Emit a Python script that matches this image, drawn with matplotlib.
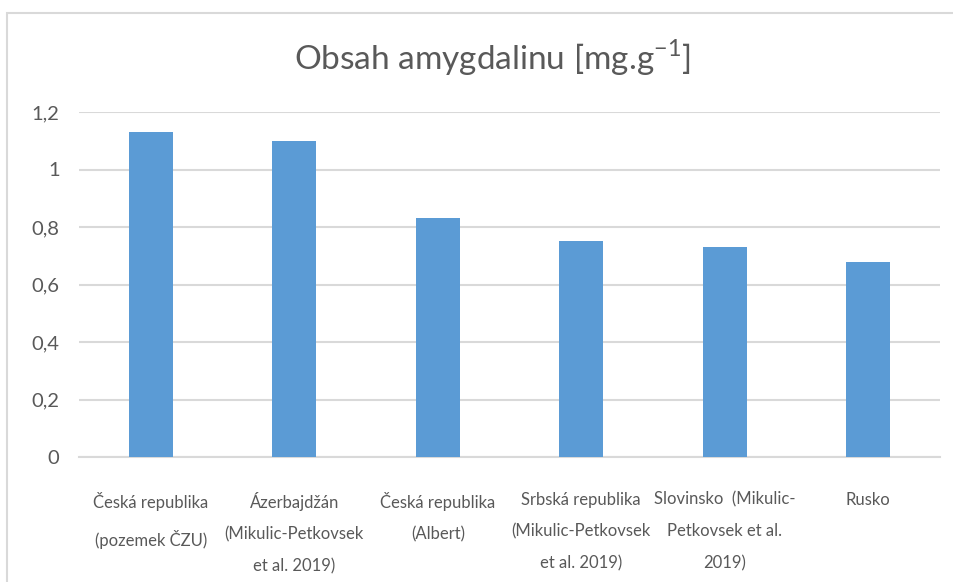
import matplotlib.pyplot as plt
import numpy as np
from matplotlib.patches import Rectangle

categories = [
    "Česká republika\n(pozemek ČZU)",
    "Ázerbajdžán\n(Mikulic-Petkovsek\net al. 2019)",
    "Česká republika\n(Albert)",
    "Srbská republika\n(Mikulic-Petkovsek\net al. 2019)",
    "Slovinsko  (Mikulic-\nPetkovsek et al.\n2019)",
    "Rusko",
]
values = [1.13, 1.10, 0.83, 0.75, 0.73, 0.68]
yticks = [0, 0.2, 0.4, 0.6, 0.8, 1.0, 1.2]
ytick_labels = ["0", "0,2", "0,4", "0,6", "0,8", "1", "1,2"]

plt.rcParams['font.family'] = ['Lato', 'DejaVu Sans']
text_color = "#595959"
grid_color = "#D9D9D9"

fig = plt.figure(figsize=(9.54, 5.82), dpi=100)
ax = fig.add_axes([79 / 954, 1 - 457 / 582, (940 - 79) / 954, (457 - 112) / 582])

x = np.arange(len(categories))
ax.bar(x, values, width=0.31, color="#5B9BD5", zorder=3)

ax.set_xlim(-0.5, len(categories) - 0.5)
ax.set_ylim(0, 1.2)
ax.set_yticks(yticks)
ax.set_yticklabels(ytick_labels, fontsize=14.5, color=text_color)
ax.set_xticks(x)
ax.set_xticklabels(categories, fontsize=12, color=text_color, linespacing=2.2, va="top")
ax.tick_params(axis="y", length=0, pad=14)
ax.tick_params(axis="x", length=0, pad=25)

ax.grid(axis="y", color=grid_color, linewidth=1.5, zorder=0)
for s in ["top", "right", "left"]:
    ax.spines[s].set_visible(False)
ax.spines["bottom"].set_color(grid_color)
ax.spines["bottom"].set_linewidth(1.5)

fig.text(492 / 954, 1 - 58 / 582, "Obsah amygdalinu [mg.g$^{\\mathregular{-1}}$]",
         fontsize=24, color=text_color, ha="center", va="center")

# chart frame, cropped on the right and bottom
fig.patches.append(Rectangle((7.5 / 954, -0.1), 1.1, 1 - 12.5 / 582 + 0.1,
                             transform=fig.transFigure, fill=False,
                             edgecolor="#D9D9D9", linewidth=1.5))

fig.savefig("out.png", dpi=100)
